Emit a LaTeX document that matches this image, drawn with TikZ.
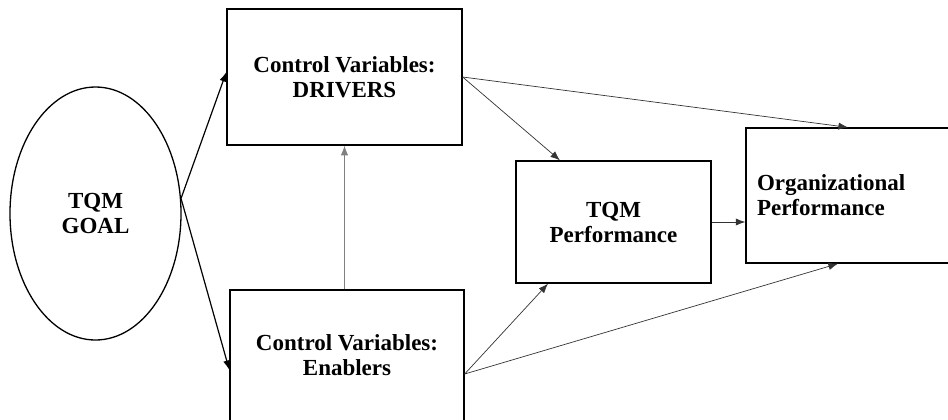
\documentclass[tikz,border=0pt]{standalone}
\usepackage{fontspec}
\setmainfont{Liberation Serif}
\usetikzlibrary{positioning,shapes.geometric,arrows.meta}
\tikzset{>={Latex[length=4.8pt,width=3.6pt]}}

\begin{document}
\begin{tikzpicture}[x=0.5pt,y=-0.5pt,
    box/.style={draw, line width=0.65pt, align=center,
      font=\bfseries\fontsize{11.5}{12.5}\selectfont},
    link/.style={->, line width=0.35pt, draw=black!80},
  ]
  \useasboundingbox (0,0) rectangle (948,419);
  \clip (0,0) rectangle (948,419);

  \node [box, ellipse, inner sep=0pt,
    minimum width=85.5pt, minimum height=126.5pt
  ] (goal) at (95.5,213.5) {TQM\\GOAL};

  \node [box,
    minimum width=117.5pt, minimum height=68pt
  ] (drivers) at (344.5,77) {Control Variables:\\DRIVERS};

  \node [box,
    minimum width=117pt, minimum height=65.5pt
  ] (enablers) at (347,355.5) {Control Variables:\\Enablers};

  \node [box,
    minimum width=97.5pt, minimum height=61pt
  ] (tqmperf) at (613.5,222) {TQM\\Performance};

  \node [box, align=left, inner xsep=5.5pt,
    text width=91pt, minimum height=67.5pt
  ] (orgperf) at (848,195.5) {Organizational\\Performance};

  \draw[->, line width=0.6pt] (goal.10) -- ([yshift=2.5pt]drivers.west);
  \draw[->, line width=0.6pt] (goal.10) -- ([yshift=-7.25pt]enablers.west);
  \draw[->, line width=0.35pt, draw=gray] (drivers.south |- enablers.north) -- (drivers.south);

  \draw[link] (drivers.east) -- ([xshift=-26.75pt]tqmperf.north);
  \draw[link] (drivers.east) -- (orgperf.north);
  \draw[link] ([yshift=-9.25pt]enablers.east) -- ([xshift=-32.75pt]tqmperf.south);
  \draw[link] ([yshift=-9.25pt]enablers.east) -- ([xshift=-5pt]orgperf.south);
  \draw[link] (tqmperf.east) -- (tqmperf.east -| orgperf.west);
\end{tikzpicture}
\end{document}
